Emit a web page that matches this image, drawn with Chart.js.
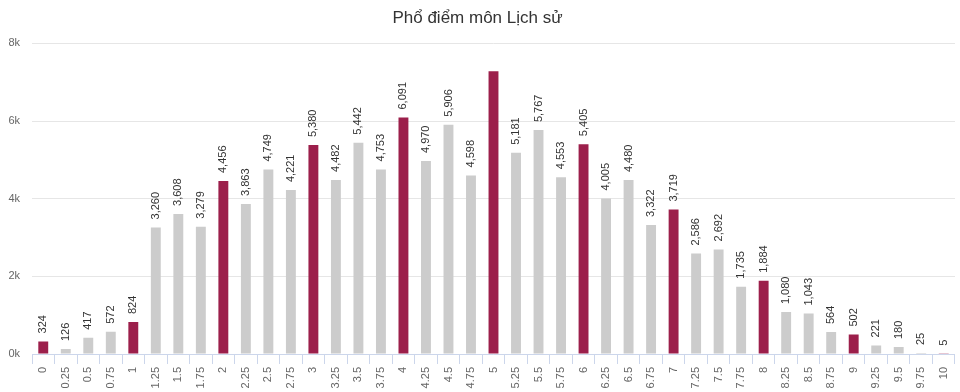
<!DOCTYPE html>
<html>
<head>
<meta charset="utf-8">
<script src="https://cdn.jsdelivr.net/npm/chart.js@4"></script>
<style>
    body { margin: 0; background: #fff; }
    #wrap { width: 960px; height: 392px; position: relative; }
</style>
</head>
<body>
<div id="wrap"><canvas id="phoDiem"></canvas></div>
<script>
// Dati: mức điểm và số thí sinh
const diem = ['0', '0.25', '0.5', '0.75', '1', '1.25', '1.5', '1.75', '2', '2.25', '2.5', '2.75',
    '3', '3.25', '3.5', '3.75', '4', '4.25', '4.5', '4.75', '5', '5.25', '5.5', '5.75',
    '6', '6.25', '6.5', '6.75', '7', '7.25', '7.5', '7.75', '8', '8.25', '8.5', '8.75',
    '9', '9.25', '9.5', '9.75', '10'];
const soThiSinh = [324, 126, 417, 572, 824, 3260, 3608, 3279, 4456, 3863, 4749, 4221,
    5380, 4482, 5442, 4753, 6091, 4970, 5906, 4598, 7280, 5181, 5767, 4553,
    5405, 4005, 4480, 3322, 3719, 2586, 2692, 1735, 1884, 1080, 1043, 564,
    502, 221, 180, 25, 5];
const yTicks = [0, 2000, 4000, 6000, 8000];

const FONT = '"Liberation Sans", Arial, sans-serif';

// Điểm nguyên tô màu đỏ đậm
const barColors = diem.map(function(d) {
    return Number.isInteger(parseFloat(d)) ? '#9c1f4b' : '#cccccc';
});

// Plugin nhãn giá trị xoay dọc trên đầu cột
const valueLabels = {
    id: 'valueLabels',
    afterDatasetsDraw: function(chart) {
        const ctx = chart.ctx;
        const meta = chart.getDatasetMeta(0);
        const area = chart.chartArea;
        ctx.save();
        ctx.font = '11px ' + FONT;
        ctx.fillStyle = '#333333';
        ctx.textAlign = 'left';
        ctx.textBaseline = 'middle';
        meta.data.forEach(function(bar, i) {
            const text = soThiSinh[i].toLocaleString('en-US');
            const w = ctx.measureText(text).width;
            const start = bar.y - 8;
            // come Highcharts: nascondi se esce dall'area
            if (start - w < area.top) return;
            ctx.save();
            ctx.translate(bar.x, start);
            ctx.rotate(-Math.PI / 2);
            ctx.fillText(text, 0, 0);
            ctx.restore();
        });
        ctx.restore();
    }
};

new Chart(document.getElementById('phoDiem'), {
    type: 'bar',
    data: {
        labels: diem,
        datasets: [{
            data: soThiSinh,
            backgroundColor: barColors,
            categoryPercentage: 1,
            barPercentage: 0.44
        }]
    },
    options: {
        responsive: true,
        maintainAspectRatio: false,
        animation: false,
        layout: { padding: { right: 5 } },
        plugins: {
            legend: { display: false },
            tooltip: { enabled: false },
            title: {
                display: true,
                text: 'Phổ điểm môn Lịch sử',
                color: '#333333',
                font: { family: FONT, size: 17, weight: 'normal' },
                padding: { top: 8, bottom: 15 }
            }
        },
        scales: {
            x: {
                grid: {
                    display: true,
                    drawOnChartArea: false,
                    drawTicks: true,
                    tickLength: 10,
                    offset: true,
                    color: '#ccd6eb'
                },
                border: { display: true, color: '#ccd6eb' },
                ticks: {
                    autoSkip: false,
                    minRotation: 90,
                    maxRotation: 90,
                    padding: 3,
                    color: '#666666',
                    font: { family: FONT, size: 11 }
                },
                afterFit: function(scale) { scale.height = 38; }
            },
            y: {
                min: 0,
                max: 8000,
                afterBuildTicks: function(scale) {
                    scale.ticks = yTicks.map(function(v) { return { value: v }; });
                },
                grid: { color: '#e6e6e6', drawTicks: false },
                border: { display: false },
                ticks: {
                    padding: 12,
                    color: '#666666',
                    font: { family: FONT, size: 11 },
                    callback: function(v) { return (v / 1000) + 'k'; }
                },
                afterFit: function(scale) { scale.width = 32; }
            }
        }
    },
    plugins: [valueLabels]
});
</script>
</body>
</html>
